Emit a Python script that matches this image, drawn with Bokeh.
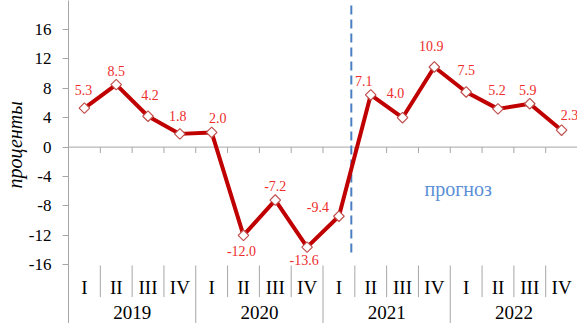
from bokeh.plotting import figure
from bokeh.models import Range1d, FixedTicker, ColumnDataSource, Title
from bokeh.core.properties import value
from bokeh.embed import file_html
from bokeh.resources import INLINE

# ---- data ----
years = ["2019", "2020", "2021", "2022"]
quarters = ["I", "II", "III", "IV"]
growth = [5.3, 8.5, 4.2, 1.8, 2.0, -12.0, -7.2, -13.6, -9.4, 7.1, 4.0, 10.9, 7.5, 5.2, 5.9, 2.3]
value_labels = ["5.3", "8.5", "4.2", "1.8", "2.0", "-12.0", "-7.2", "-13.6", "-9.4",
                "7.1", "4.0", "10.9", "7.5", "5.2", "5.9", "2.3"]
y_ticks = [-16, -12, -8, -4, 0, 4, 8, 12, 16]
forecast_start = 8.89       # position of the forecast divider (in quarter units)
forecast_text = "прогноз"
y_title = "проценты"

# ---- layout parameters (screen pixel offsets of value labels) ----
label_dx = [-1, 0, 2, -2, 6, -2, 0, -3, -21, -7, -7, -3, 0, -1, -2, 8]
label_dy = [-18, -14, -21, -18, -14, 16, -14, 13, -9, -14, -25, -21, -22, -19, -14, -15]

SERIF = value("Liberation Serif")
GRAY = "#A6A6A6"

n = len(growth)
xc = [i + 0.5 for i in range(n)]

y_top, y_bottom = 19.94, -23.99
p = figure(width=577, height=323, output_backend="svg", toolbar_location=None,
           x_range=Range1d(0, n), y_range=Range1d(y_bottom, y_top),
           x_axis_location=None, min_border_left=68, min_border_right=0,
           min_border_top=0, min_border_bottom=0)
p.outline_line_color = None
p.grid.visible = False
p.background_fill_color = "white"
p.border_fill_color = "white"

ya = p.yaxis[0]
ya.ticker = FixedTicker(ticks=y_ticks)
ya.major_label_overrides = {t: str(t) for t in y_ticks}
ya.minor_tick_line_color = None
ya.major_tick_out = 6
ya.major_tick_in = 0
ya.major_tick_line_color = GRAY
ya.axis_line_color = GRAY
ya.major_label_text_font = "Liberation Serif"
ya.major_label_text_font_size = "17px"
ya.major_label_text_color = "black"
ya.major_label_standoff = 11

# y-axis title, placed alongside the value area
p.add_layout(Title(text=y_title, align="left", offset=135, standoff=0,
                   text_font="Liberation Serif", text_font_style="italic",
                   text_font_size="20px", text_color="black"), "left")

# zero line with downward ticks at quarter boundaries
p.segment(x0=[0], y0=[0], x1=[n], y1=[0], line_color=GRAY, line_width=1)
bounds = list(range(1, n + 1))
p.segment(x0=bounds, y0=[0] * n, x1=bounds, y1=[-0.8] * n, line_color=GRAY, line_width=1)

# category area below the plot
sep_top = -16.1
q_bounds = [b for b in range(1, n) if b % 4 != 0]
y_bounds = [b for b in range(4, n + 1, 4)]
p.segment(x0=q_bounds, y0=[sep_top] * len(q_bounds), x1=q_bounds, y1=[-20.4] * len(q_bounds),
          line_color=GRAY, line_width=1)
p.segment(x0=y_bounds, y0=[sep_top] * len(y_bounds), x1=y_bounds, y1=[y_bottom] * len(y_bounds),
          line_color=GRAY, line_width=1)
q_labels = [quarters[i % 4] for i in range(n)]
p.text(x=xc, y=[-19.15] * n, text=q_labels, text_font=SERIF, text_font_size="19px",
       text_color="black", text_align="center", text_baseline="middle")
yr_x = [4 * k + 2 for k in range(len(years))]
p.text(x=yr_x, y=[-22.55] * len(years), text=years, text_font=SERIF, text_font_size="19px",
       text_color="black", text_align="center", text_baseline="middle")

# forecast divider
p.segment(x0=[forecast_start], y0=[19.26], x1=[forecast_start], y1=[-14.74],
          line_color="#4A7EC2", line_width=2, line_dash="9 5")
p.text(x=[12.25], y=[-5.63], text=[forecast_text], text_font=SERIF, text_font_size="20px",
       text_color="#5B8FD6", text_align="center", text_baseline="middle")

# series
src = ColumnDataSource(dict(x=xc, y=growth, lab=value_labels, dx=label_dx, dy=label_dy))
p.line("x", "y", source=src, line_color="#C00000", line_width=4, line_join="round")
p.scatter("x", "y", source=src, marker="square", angle=0.785398, size=7.5,
          fill_color="white", line_color="#C0504D", line_width=1.2)
p.text("x", "y", text="lab", source=src, x_offset="dx", y_offset="dy",
       text_font=SERIF, text_font_size="14px", text_color="#EE2C2C",
       text_align="center", text_baseline="middle")

open("out.html", "w").write(file_html(p, INLINE))
